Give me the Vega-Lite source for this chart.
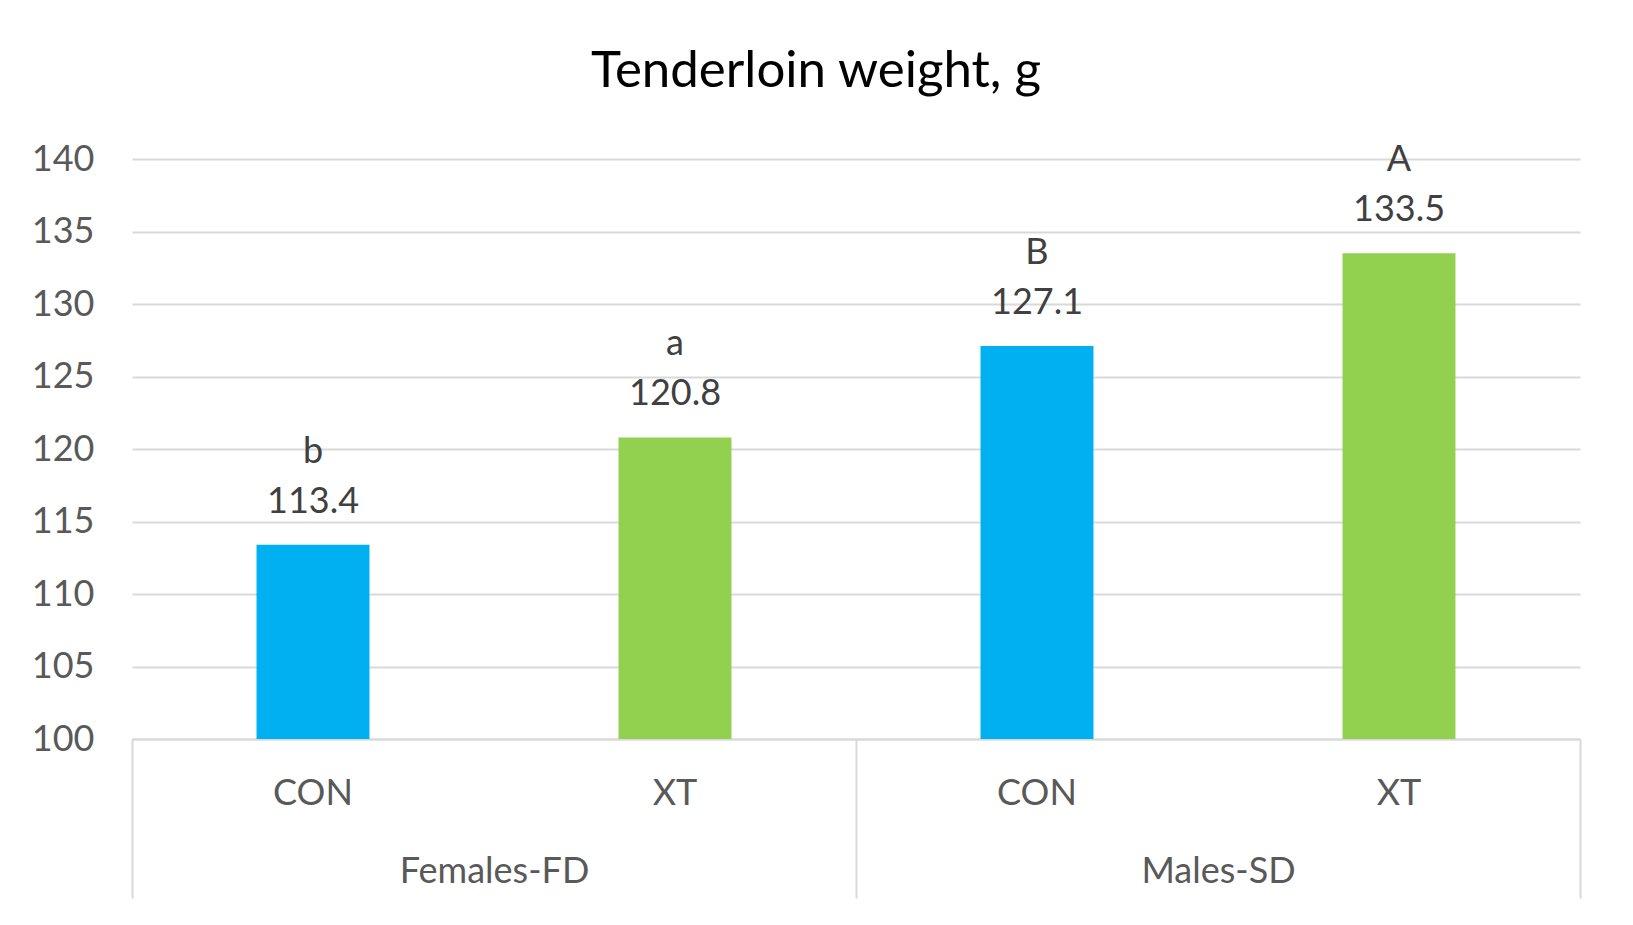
{
  "$schema": "https://vega.github.io/schema/vega-lite/v6.json",
  "width": 1448,
  "height": 580,
  "autosize": "none",
  "padding": {"left": 132, "top": 159, "right": 53, "bottom": 186},
  "background": "white",
  "config": {"view": {"stroke": null}, "font": "Lato"},
  "title": {"text": "Tenderloin weight, g", "fontSize": 51, "font": "Lato", "fontWeight": "normal", "color": "#000000", "anchor": "middle", "offset": 43, "dx": -40},
  "data": {"values": [
    {"group": "Females-FD", "treatment": "CON", "weight": 113.4, "letter": "b"},
    {"group": "Females-FD", "treatment": "XT", "weight": 120.8, "letter": "a"},
    {"group": "Males-SD", "treatment": "CON", "weight": 127.1, "letter": "B"},
    {"group": "Males-SD", "treatment": "XT", "weight": 133.5, "letter": "A"}
  ]},
  "encoding": {
    "x": {"field": "group", "type": "nominal", "sort": ["Females-FD", "Males-SD"],
      "scale": {"paddingInner": 0, "paddingOuter": 0},
      "axis": {"orient": "bottom", "title": null, "labelAngle": 0, "domain": true, "domainColor": "#d9d9d9", "domainWidth": 2,
        "ticks": true, "tickBand": "extent", "tickSize": 159, "tickColor": "#d9d9d9", "tickWidth": 2, "labelLimit": 0,
        "labelFontSize": 36, "labelColor": "#595959", "labelFont": "Lato", "labelPadding": -44, "grid": false}},
    "xOffset": {"field": "treatment", "type": "nominal", "sort": ["CON", "XT"], "scale": {"paddingInner": 0.688, "paddingOuter": 0.344}},
    "y": {"field": "weight", "type": "quantitative",
      "scale": {"domain": [100, 140], "zero": false, "nice": false},
      "axis": {"title": null, "values": [100, 105, 110, 115, 120, 125, 130, 135, 140], "domain": false, "ticks": false,
        "grid": true, "gridColor": "#d9d9d9", "gridWidth": 2, "labelFontSize": 36, "labelColor": "#595959", "labelFont": "Lato", "labelPadding": 38}}
  },
  "layer": [
    {"mark": {"type": "bar"},
     "encoding": {"y2": {"datum": 100},
       "color": {"field": "treatment", "type": "nominal", "scale": {"domain": ["CON", "XT"], "range": ["#00B0F0", "#92D050"]}, "legend": null}}},
    {"mark": {"type": "text", "dy": -43, "baseline": "middle", "fontSize": 36, "color": "#404040", "font": "Lato"},
     "encoding": {"text": {"field": "weight", "type": "quantitative", "format": ".1f"}}},
    {"mark": {"type": "text", "dy": -93, "baseline": "middle", "fontSize": 36, "color": "#404040", "font": "Lato"},
     "encoding": {"text": {"field": "letter", "type": "nominal"}}},
    {"mark": {"type": "text", "dy": 55, "baseline": "middle", "fontSize": 36, "color": "#595959", "font": "Lato"},
     "encoding": {"y": {"datum": 100}, "text": {"field": "treatment", "type": "nominal"}}}
  ]
}
